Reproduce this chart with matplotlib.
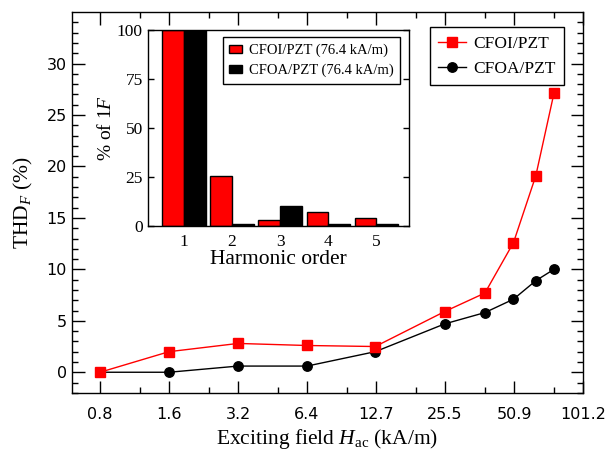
import numpy as np
import matplotlib
matplotlib.use('Agg')
import matplotlib.pyplot as plt
from matplotlib.ticker import NullFormatter

plt.rcParams['mathtext.fontset'] = 'custom'
plt.rcParams['mathtext.rm'] = 'Liberation Serif'
plt.rcParams['mathtext.it'] = 'Liberation Serif:italic'
SERIF = 'Liberation Serif'

# main chart data
field = [0.8, 1.6, 3.2, 6.4, 12.7, 25.5, 38.2, 50.9, 63.7, 76.4]
thd_cfoi = [0.0, 2.0, 2.8, 2.6, 2.5, 5.9, 7.7, 12.6, 19.1, 27.1]
thd_cfoa = [0.0, 0.0, 0.6, 0.6, 2.0, 4.7, 5.8, 7.1, 8.9, 10.0]
xtick_labels = ['0.8', '1.6', '3.2', '6.4', '12.7', '25.5', '50.9', '101.2']

# inset data
harmonics = [1, 2, 3, 4, 5]
pct_cfoi = [100, 25.5, 3.1, 7.1, 3.9]
pct_cfoa = [100, 0.9, 10.0, 1.2, 1.2]

fig = plt.figure(figsize=(6.08, 4.51), dpi=100)
ax = fig.add_axes([0.118, 0.129, 0.841, 0.844])

ax.plot(field, thd_cfoa, 'k-', marker='o', markersize=6.8, linewidth=1.0,
        label='CFOA/PZT', zorder=3)
ax.plot(field, thd_cfoi, '-', color='red', marker='s', markersize=7.2,
        linewidth=1.0, label='CFOI/PZT', zorder=4)

ax.set_xscale('log', base=2)
major = [0.8 * 2 ** k for k in range(8)]
minor = [0.8 * 2 ** k * 1.5 for k in range(7)]
ax.set_xticks(major)
ax.set_xticklabels(xtick_labels)
ax.set_xticks(minor, minor=True)
ax.xaxis.set_minor_formatter(NullFormatter())
ax.set_xlim(0.8 * 2 ** -0.41, 0.8 * 2 ** 7)
ax.set_ylim(-2, 35)
ax.set_yticks(range(0, 31, 5))
ax.set_yticks(range(-2, 35), minor=True)
ax.tick_params(which='both', direction='in', top=True, right=True,
               labelsize=11.5, width=1.0)
ax.tick_params(which='major', length=9)
ax.tick_params(which='minor', length=4.5)
ax.tick_params(axis='x', pad=10)
for s in ax.spines.values():
    s.set_linewidth(1.0)

ax.set_xlabel(r'Exciting field $H_{\mathrm{ac}}$ (kA/m)', fontfamily=SERIF,
              fontsize=15.5, labelpad=4)
ax.set_ylabel(r'THD$_{F}$ (%)', fontfamily=SERIF, fontsize=15.5, labelpad=8)

h, l = ax.get_legend_handles_labels()
leg = ax.legend(h[::-1], l[::-1], loc='upper right', bbox_to_anchor=(0.963, 0.961),
                borderaxespad=0, prop={'family': SERIF, 'size': 12.5},
                fancybox=False, edgecolor='black', framealpha=1,
                handlelength=1.6, handletextpad=0.4, borderpad=0.5,
                labelspacing=0.5)
leg.get_frame().set_linewidth(1.0)

# inset
axi = fig.add_axes([0.243, 0.499, 0.430, 0.434])
w = 0.45
x = np.array(harmonics)
axi.bar(x - w / 2, pct_cfoi, w, color='red', edgecolor='black', linewidth=1.0,
        label='CFOI/PZT (76.4 kA/m)')
axi.bar(x + w / 2, pct_cfoa, w, color='black', edgecolor='black', linewidth=1.0,
        label='CFOA/PZT (76.4 kA/m)')
axi.set_xlim(0.25, 5.68)
axi.set_ylim(0, 100)
axi.set_xticks(harmonics)
axi.set_yticks([0, 25, 50, 75, 100])
axi.tick_params(axis='x', length=0, pad=6)
axi.tick_params(axis='y', direction='in', right=True, length=4.5, width=1.0)
for lab in axi.get_xticklabels() + axi.get_yticklabels():
    lab.set_fontfamily(SERIF)
    lab.set_fontsize(12.5)
for s in axi.spines.values():
    s.set_linewidth(1.0)
axi.set_xlabel('Harmonic order', fontfamily=SERIF, fontsize=15.5, labelpad=0)
axi.set_ylabel(r'% of 1$F$', fontfamily=SERIF, fontsize=14, labelpad=1)
legi = axi.legend(loc='upper right', bbox_to_anchor=(0.966, 0.964), borderaxespad=0,
                  prop={'family': SERIF, 'size': 10.5}, fancybox=False,
                  edgecolor='black', framealpha=1, handlelength=0.85,
                  handleheight=0.45, handletextpad=0.5, borderpad=0.45,
                  labelspacing=0.45)
legi.get_frame().set_linewidth(1.0)

plt.savefig('out.png', dpi=100)
